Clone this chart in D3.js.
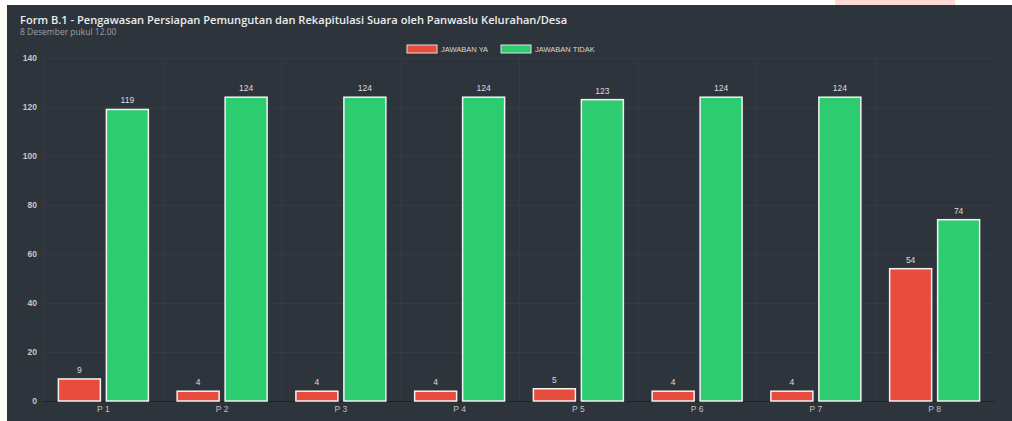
<!DOCTYPE html>
<html>
<head>
<meta charset="utf-8">
<script src="https://cdn.jsdelivr.net/npm/d3@7"></script>
<style>
  html, body { margin: 0; padding: 0; background: #fffef2; }
  svg { display: block; }
</style>
</head>
<body>
<script>
var categories = ["P 1", "P 2", "P 3", "P 4", "P 5", "P 6", "P 7", "P 8"];
var jawabanYa = [9, 4, 4, 4, 5, 4, 4, 54];
var jawabanTidak = [119, 124, 124, 124, 123, 124, 124, 74];
var seriesNames = ["JAWABAN YA", "JAWABAN TIDAK"];
var seriesColors = ["#e74c3c", "#2ecc71"];
var yTicks = [0, 20, 40, 60, 80, 100, 120, 140];

var width = 1012, height = 421;
var plotLeft = 44, plotRight = 994, plotTop = 58, plotBottom = 401;

var svg = d3.select("body").append("svg")
    .attr("width", width)
    .attr("height", height);

// page background bits
svg.append("rect").attr("x", 0).attr("y", 0).attr("width", width).attr("height", 5).attr("fill", "#ffffff");
svg.append("rect").attr("x", 835).attr("y", 0).attr("width", 120).attr("height", 5).attr("fill", "#ffd9d6");

// panel
svg.append("rect")
    .attr("x", 7).attr("y", 5)
    .attr("width", width - 7).attr("height", height)
    .attr("fill", "#2e343c");

svg.append("text")
    .attr("x", 20).attr("y", 24)
    .attr("font-family", "Open Sans")
    .attr("font-weight", 600)
    .attr("font-size", 11.1)
    .attr("fill", "#ececec")
    .text("Form B.1 - Pengawasan Persiapan Pemungutan dan Rekapitulasi Suara oleh Panwaslu Kelurahan/Desa");

svg.append("text")
    .attr("x", 20).attr("y", 35)
    .attr("font-family", "Open Sans")
    .attr("font-size", 8.5)
    .attr("fill", "#9aa0a6")
    .text("8 Desember pukul 12.00");

var x0 = d3.scaleBand().domain(categories).range([plotLeft, plotRight]).padding(0);
var x1 = d3.scaleBand().domain(seriesNames).range([0, x0.bandwidth()])
    .paddingInner(0.125).paddingOuter(0.3);
var y = d3.scaleLinear().domain([0, 140]).range([plotBottom, plotTop]);

// grid
svg.append("g").selectAll("line")
    .data(yTicks.slice(1))
    .enter().append("line")
    .attr("x1", plotLeft).attr("x2", plotRight)
    .attr("y1", function(d){ return y(d) + 0.5; })
    .attr("y2", function(d){ return y(d) + 0.5; })
    .attr("stroke", "#353b44").attr("stroke-width", 1);

svg.append("g").selectAll("line")
    .data(categories)
    .enter().append("line")
    .attr("x1", function(d){ return x0(d) + 0.5; })
    .attr("x2", function(d){ return x0(d) + 0.5; })
    .attr("y1", plotTop).attr("y2", plotBottom)
    .attr("stroke", "#353b44").attr("stroke-width", 1);

// y axis
var yAxis = svg.append("g")
    .attr("transform", "translate(" + (plotLeft - 7) + ",0)")
    .call(d3.axisLeft(y).tickValues(yTicks).tickSize(0).tickPadding(0));
yAxis.select(".domain").remove();
yAxis.selectAll("text")
    .attr("font-family", "Liberation Sans")
    .attr("font-weight", "bold")
    .attr("font-size", 8.5)
    .attr("fill", "#c8c8c8");

// x axis
var xAxis = svg.append("g")
    .attr("transform", "translate(0," + plotBottom + ")")
    .call(d3.axisBottom(x0).tickSize(0).tickPadding(5));
xAxis.select(".domain").attr("stroke", "#1e2227").attr("stroke-width", 1.2);
xAxis.selectAll("text")
    .attr("font-family", "Liberation Sans")
    .attr("font-size", 8.5)
    .attr("fill", "#c0c0c0");

// bars
var rows = categories.map(function(c, i){
    return { cat: c, values: [
        { name: seriesNames[0], v: jawabanYa[i], color: seriesColors[0] },
        { name: seriesNames[1], v: jawabanTidak[i], color: seriesColors[1] }
    ]};
});

var groups = svg.append("g").selectAll("g")
    .data(rows)
    .enter().append("g")
    .attr("transform", function(d){ return "translate(" + x0(d.cat) + ",0)"; });

groups.selectAll("rect")
    .data(function(d){ return d.values; })
    .enter().append("rect")
    .attr("x", function(d){ return x1(d.name); })
    .attr("y", function(d){ return y(d.v); })
    .attr("width", x1.bandwidth())
    .attr("height", function(d){ return plotBottom - y(d.v); })
    .attr("fill", function(d){ return d.color; })
    .attr("stroke", "#f2f2f2")
    .attr("stroke-width", 1.5);

groups.selectAll("text")
    .data(function(d){ return d.values; })
    .enter().append("text")
    .attr("x", function(d){ return x1(d.name) + x1.bandwidth() / 2; })
    .attr("y", function(d){ return y(d.v) - 6; })
    .attr("text-anchor", "middle")
    .attr("font-family", "Liberation Sans")
    .attr("font-size", 8.5)
    .attr("fill", "#dcdcdc")
    .text(function(d){ return d.v; });

// legend
var legendX = [407, 501];
var legend = svg.append("g").selectAll("g")
    .data(seriesNames)
    .enter().append("g")
    .attr("transform", function(d, i){ return "translate(" + legendX[i] + ",45)"; });
legend.append("rect")
    .attr("width", 30).attr("height", 8)
    .attr("fill", function(d, i){ return seriesColors[i]; })
    .attr("stroke", "#e0e0e0").attr("stroke-width", 1);
legend.append("text")
    .attr("x", 34).attr("y", 7)
    .attr("font-family", "Liberation Sans")
    .attr("font-size", 7.5)
    .attr("fill", "#d8d8d8")
    .text(function(d){ return d; });
</script>
</body>
</html>
